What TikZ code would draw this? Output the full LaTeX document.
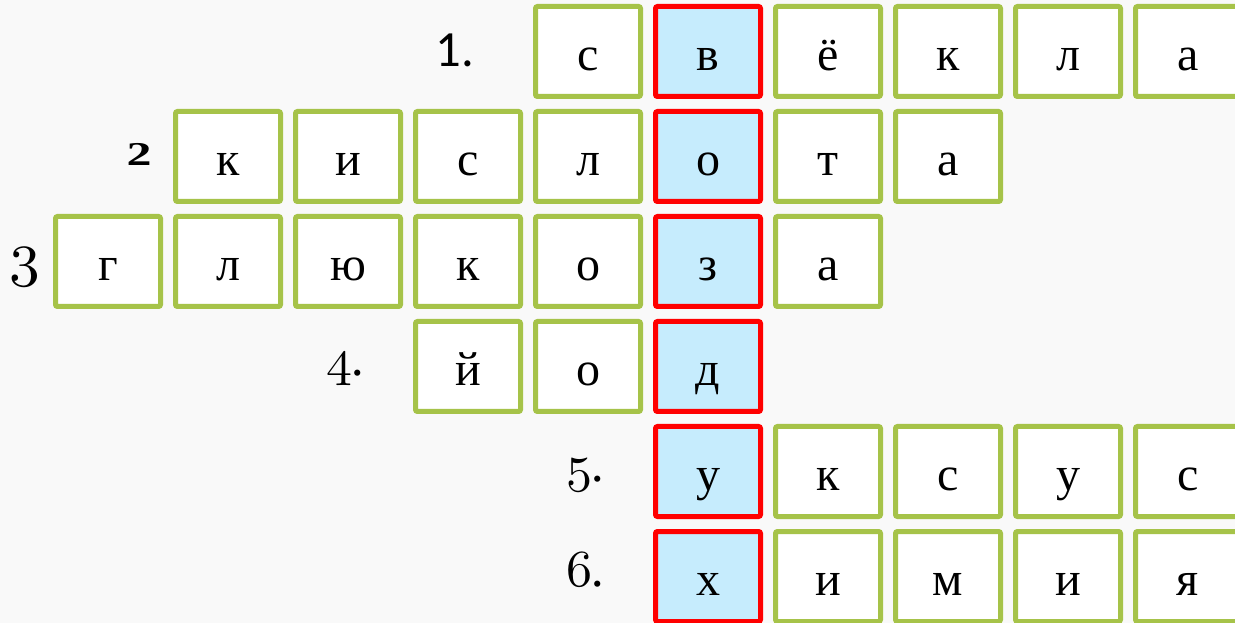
\documentclass[tikz,border=0pt]{standalone}
\usepackage{fontspec}
\setmainfont{Liberation Serif}
\newfontfamily\labelfont{Carlito}
\definecolor{cellgreen}{RGB}{166,195,73}
\definecolor{keyred}{RGB}{255,0,0}
\definecolor{keyblue}{RGB}{198,236,253}
\definecolor{paper}{RGB}{249,249,249}
% old-style figure at 10pt, then an optional dot; the node scales it up
\newcommand{\osnum}[2]{{\fontsize{10}{10}\usefont{OML}{lmm}{m}{it}#1\rmfamily#2}}
\tikzset{
  cell/.style={draw=cellgreen, fill=white, line width=3.75pt, rounded corners=1.5pt,
    minimum width=78.75pt, minimum height=67.5pt, inner sep=0pt,
    text height=28pt, text depth=0pt, font=\fontsize{36}{40}\selectfont},
  keycell/.style={cell, draw=keyred, fill=keyblue},
  cellat/.code={\ifnum#1=5 \pgfkeysalso{keycell}\else\pgfkeysalso{cell}\fi},
  numlabel/.style={inner sep=0pt}
}

\begin{document}
\begin{tikzpicture}[x=0.75pt, y=-0.75pt]

  \useasboundingbox (0,0) rectangle (1235,623);
  \clip (0,0) rectangle (1235,623);
  \fill[paper] (0,0) rectangle (1235,623);

  % crossword rows: word / first column / row
  \foreach \word/\first/\row in {{с,в,ё,к,л,а}/4/0, {к,и,с,л,о,т,а}/1/1,
      {г,л,ю,к,о,з,а}/0/2, {й,о,д}/3/3, {у,к,с,у,с}/5/4, {х,и,м,и,я}/5/5} {
    \foreach \ch [count=\col from \first] in \word {
      \node[cellat=\col] (c\row-\col) at ({108+120*\col},{51.5+105*\row}) {\ch};
    }
  }

  % question numbers
  \node[numlabel] (n1) at (455,50) {\labelfont\fontsize{38}{40}\selectfont 1.};
  \node[numlabel, xscale=1.5] (n2) at (139,154) {\bfseries\fontsize{25}{25}\selectfont 2};
  \node[numlabel, scale=4.6] (n3) at (25,267) {\osnum{3}{}};
  \node[numlabel, scale=3.9] (n4) at (346,369) {\osnum{4}{.}};
  \node[numlabel, scale=3.9] (n5) at (586,475) {\osnum{5}{.}};
  \node[numlabel, scale=3.9] (n6) at (586,570) {\osnum{6}{.}};

\end{tikzpicture}
\end{document}
